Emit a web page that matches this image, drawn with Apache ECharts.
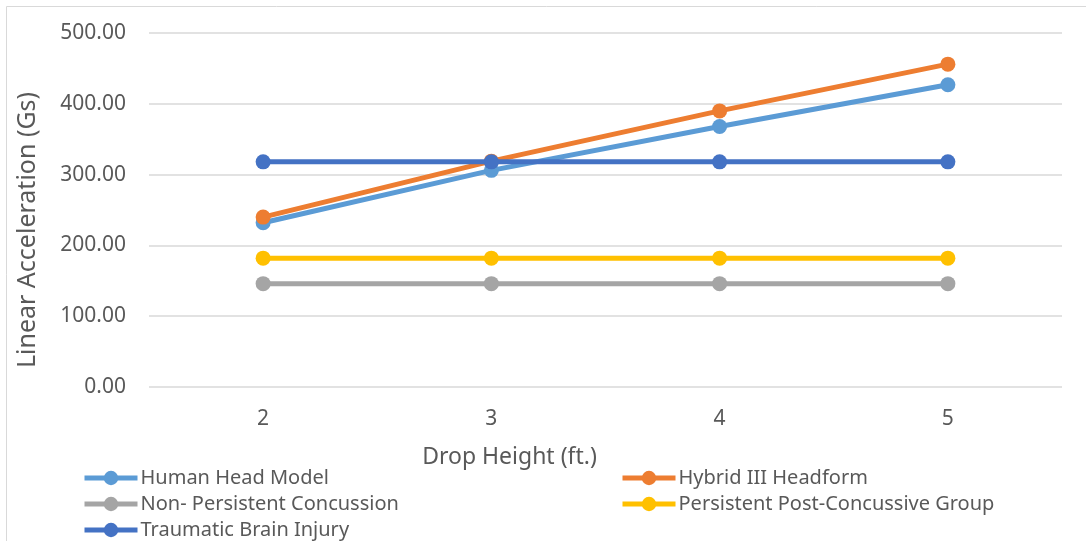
<!DOCTYPE html>
<html><head><meta charset="utf-8">
<script src="https://cdn.jsdelivr.net/npm/echarts@6/dist/echarts.min.js"></script>
<style>html,body{margin:0;padding:0;background:#fff}#c{width:1086px;height:541px}</style>
</head><body><div id="c"></div>
<script>
const categories = ['2','3','4','5'];
const humanHead = [232, 306, 368, 427];
const hybrid3 = [240, 319, 390, 456];
const nonPersistent = [146, 146, 146, 146];
const persistentPost = [182, 182, 182, 182];
const tbi = [318, 318, 318, 318];
const seriesNames = ['Human Head Model','Hybrid III Headform','Non- Persistent Concussion','Persistent Post-Concussive Group','Traumatic Brain Injury'];
const seriesColors = ['#5B9BD5','#ED7D31','#A5A5A5','#FFC000','#4472C4'];
const seriesData = [humanHead, hybrid3, nonPersistent, persistentPost, tbi];
const FONT = 'Noto Sans';
const chart = echarts.init(document.getElementById('c'), null, {renderer:'canvas'});
function leg(name, left, cy){
  return {data:[name], left:left, top:cy-12, padding:0, orient:'horizontal',
    itemWidth:53, itemHeight:18, lineStyle:{width:5},
    textStyle:{fontFamily:FONT, fontSize:20, color:'#595959', padding:[0,0,0,-2], lineHeight:24}};
}
chart.setOption({
  animation:false,
  graphic:[{type:'rect', shape:{x:6.5,y:6.5,width:1200,height:600}, style:{fill:'none', stroke:'#D9D9D9', lineWidth:1}}],
  grid:{left:149, right:24, top:33, bottom:154},
  legend:[
    leg(seriesNames[0], 82, 478),
    leg(seriesNames[2], 82, 504),
    leg(seriesNames[4], 82, 530),
    leg(seriesNames[1], 620, 478),
    leg(seriesNames[3], 620, 504)
  ],
  xAxis:{type:'category', data:categories, boundaryGap:true,
    name:'Drop Height (ft.)', nameLocation:'middle', nameGap:59,
    nameTextStyle:{fontFamily:FONT, fontSize:23, color:'#595959', padding:[0,192,0,0]},
    axisLine:{show:false}, axisTick:{show:false},
    axisLabel:{fontFamily:FONT, fontSize:21, color:'#595959', margin:22}},
  yAxis:{type:'value', min:0, max:500, interval:100,
    name:'Linear Acceleration (Gs)', nameLocation:'middle', nameGap:109, nameRotate:90,
    nameTextStyle:{fontFamily:FONT, fontSize:25, color:'#595959', padding:[0,40,0,0]},
    axisLine:{show:false}, axisTick:{show:false},
    axisLabel:{fontFamily:FONT, fontSize:21, color:'#595959', margin:23, formatter:v=>v.toFixed(2)},
    splitLine:{lineStyle:{color:'#D9D9D9', width:1.5}}},
  series: seriesNames.map((n,i)=>({name:n, type:'line', data:seriesData[i], symbol:'circle', symbolSize:15,
    itemStyle:{color:seriesColors[i]}, lineStyle:{color:seriesColors[i], width:5}, z:2+i}))
});
</script></body></html>
